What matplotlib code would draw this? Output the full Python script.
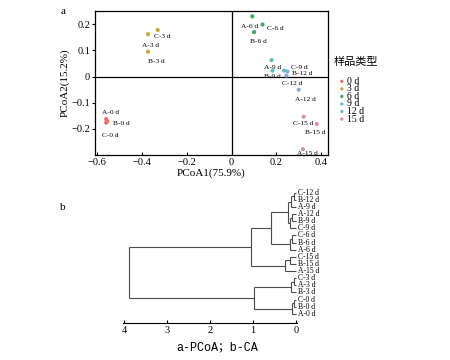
import matplotlib.pyplot as plt

# PCoA scores
days = ['0 d', '3 d', '6 d', '9 d', '12 d', '15 d']
colors = ['#e8736e', '#c4aa3c', '#3fa95c', '#62bcc0', '#88a9d8', '#d690b2']
samples = {
    '0 d':  [('A-0 d', -0.560, -0.162), ('B-0 d', -0.555, -0.170), ('C-0 d', -0.560, -0.176)],
    '3 d':  [('A-3 d', -0.373, 0.162), ('C-3 d', -0.330, 0.178), ('B-3 d', -0.373, 0.095)],
    '6 d':  [('A-6 d', 0.092, 0.230), ('C-6 d', 0.138, 0.199), ('B-6 d', 0.100, 0.170)],
    '9 d':  [('A-9 d', 0.178, 0.063), ('B-9 d', 0.182, 0.023), ('C-9 d', 0.234, 0.023)],
    '12 d': [('B-12 d', 0.249, 0.020), ('C-12 d', 0.244, 0.004), ('A-12 d', 0.299, -0.050)],
    '15 d': [('C-15 d', 0.321, -0.153), ('B-15 d', 0.380, -0.181), ('A-15 d', 0.318, -0.277)],
}

# label placement (offset points, ha)
label_pos = {
    'A-0 d': (3, 5, 'center'), 'B-0 d': (4, -2, 'left'), 'C-0 d': (3, -9, 'center'),
    'A-3 d': (2, -8, 'center'), 'C-3 d': (-3, -5, 'left'), 'B-3 d': (6, -7, 'center'),
    'A-6 d': (-2, -7, 'center'), 'C-6 d': (3, -3, 'left'), 'B-6 d': (3, -7, 'center'),
    'A-9 d': (1, -5, 'center'), 'B-9 d': (0, -4, 'center'), 'C-9 d': (5, 2.5, 'left'),
    'B-12 d': (3, -1.5, 'left'), 'C-12 d': (4, -6, 'center'), 'A-12 d': (5, -7, 'center'),
    'C-15 d': (0, -5, 'center'), 'B-15 d': (-1, -6, 'center'), 'A-15 d': (3, -3, 'center'),
}

# cluster tree: (left, right, height)
tree = (
    (
        (
            ((('C-12 d', 'B-12 d', 0.06), 'A-9 d', 0.13),
             (('A-12 d', 'B-9 d', 0.09), 'C-9 d', 0.14), 0.18),
            (('C-6 d', 'B-6 d', 0.09), 'A-6 d', 0.15),
            0.59),
        (('C-15 d', 'B-15 d', 0.14), 'A-15 d', 0.27),
        1.04),
    ((('C-3 d', 'A-3 d', 0.06), 'B-3 d', 0.115),
     (('C-0 d', 'B-0 d', 0.06), 'A-0 d', 0.10), 0.98),
    3.88)

serif = 'Liberation Serif'
fig = plt.figure(figsize=(4.5, 3.6), dpi=100)

# ---- a: PCoA
ax = fig.add_axes([0.211, 0.569, 0.518, 0.40])
for d, c in zip(days, colors):
    pts = samples[d]
    ax.scatter([p[1] for p in pts], [p[2] for p in pts], s=9, color=c,
               edgecolors='none', label=d, zorder=3)
    for name, x, y in pts:
        dx, dy, ha = label_pos[name]
        ax.annotate(name, (x, y), xytext=(dx, dy), textcoords='offset points',
                    ha=ha, va='center', fontsize=5.3, family=serif)
ax.axhline(0, color='black', lw=0.9)
ax.axvline(0, color='black', lw=0.9)
ax.set_xlim(-0.61, 0.43)
ax.set_ylim(-0.30, 0.25)
ax.set_xticks([-0.6, -0.4, -0.2, 0, 0.2, 0.4])
ax.set_xticklabels(['\u22120.6', '\u22120.4', '\u22120.2', '0', '0.2', '0.4'])
ax.set_yticks([-0.2, -0.1, 0, 0.1, 0.2])
ax.set_yticklabels(['\u22120.2', '\u22120.1', '0', '0.1', '0.2'])
ax.tick_params(axis='x', direction='in', length=2.5, labelsize=7.5, pad=2)
ax.tick_params(axis='y', direction='out', length=2.5, labelsize=7.5, pad=1)
for t in ax.get_xticklabels() + ax.get_yticklabels():
    t.set_family(serif)
for s in ax.spines.values():
    s.set_linewidth(0.9)
ax.set_xlabel('PCoA1(75.9%)', fontsize=8, family=serif, labelpad=1)
ax.set_ylabel('PCoA2(15.2%)', fontsize=8, family=serif, labelpad=1)

fig.text(0.742, 1 - 62 / 360, '样品类型', fontsize=8, va='center',
         family=['Noto Sans CJK SC'])
leg = ax.legend(loc='upper left', bbox_to_anchor=(0.738, 1 - 72 / 360),
                bbox_transform=fig.transFigure, frameon=False,
                fontsize=7, handletextpad=0.0, handlelength=1.0,
                labelspacing=-0.15, borderpad=0, markerscale=0.8)
for t in leg.get_texts():
    t.set_family(serif)

fig.text(0.135, 0.968, 'a', fontsize=8, family=serif, va='center')
fig.text(0.133, 0.423, 'b', fontsize=8, family=serif, va='center')

# ---- b: cluster dendrogram
bx = fig.add_axes([0.274, 0.103, 0.385, 0.37])
leaves = []


def collect(node):
    if isinstance(node, str):
        leaves.append(node)
    else:
        collect(node[0])
        collect(node[1])


collect(tree)
ypos = {name: len(leaves) - 1 - i for i, name in enumerate(leaves)}


def draw(node):
    if isinstance(node, str):
        return ypos[node], 0.0
    y1, h1 = draw(node[0])
    y2, h2 = draw(node[1])
    h = node[2]
    kw = dict(color='#4a4a4a', lw=0.8, solid_capstyle='butt')
    bx.plot([h1, h], [y1, y1], **kw)
    bx.plot([h2, h], [y2, y2], **kw)
    bx.plot([h, h], [y1, y2], **kw)
    return (y1 + y2) / 2, h


draw(tree)
for name in leaves:
    bx.annotate(name, (0, ypos[name]), xytext=(1, 0), textcoords='offset points',
                ha='left', va='center', fontsize=5.5, family=serif)
bx.set_xlim(4.02, -0.01)
bx.set_ylim(-1.27, len(leaves) - 1 + 0.42)
for k in ['top', 'right', 'left']:
    bx.spines[k].set_visible(False)
bx.spines['bottom'].set_linewidth(0.8)
bx.set_yticks([])
bx.set_xticks([4, 3, 2, 1, 0])
bx.tick_params(axis='x', direction='in', length=2.5, labelsize=7.5, pad=2)
for t in bx.get_xticklabels():
    t.set_family(serif)

fig.text(0.482, 0.036, 'a-PCoA；b-CA', fontsize=8.5, ha='center', va='center',
         family=['Liberation Mono', 'Noto Sans CJK SC'])

fig.savefig('out.png', dpi=100)
